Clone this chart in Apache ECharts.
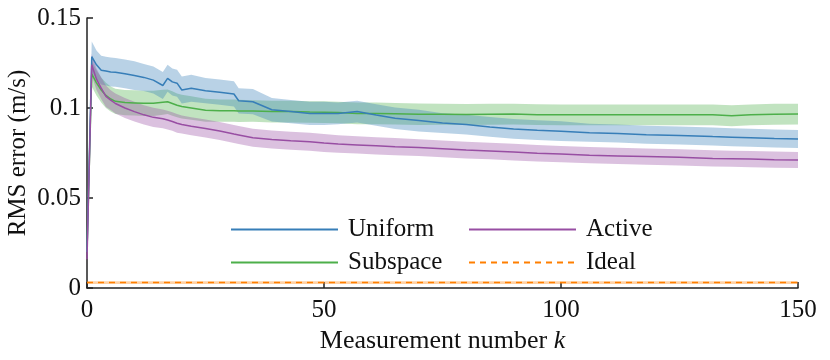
<!DOCTYPE html>
<html>
<head>
<meta charset="utf-8">
<script src="https://cdn.jsdelivr.net/npm/echarts@6/dist/echarts.min.js"></script>
<style>
  html, body { margin: 0; padding: 0; background: #fff; }
  #main { width: 830px; height: 360px; }
</style>
</head>
<body>
<div id="main"></div>
<script>
// measurement numbers where values were read
var kVals = [0, 1, 2, 3, 4, 5, 6, 8, 10, 12, 14, 16, 17, 18, 19, 20, 22, 25, 28, 31, 32, 35, 39, 43, 47,
    50, 53, 57, 61, 65, 70, 75, 80, 85, 90, 95, 100, 106, 112, 118, 125, 132, 136, 140, 145, 150];

// mean RMS error per strategy
var uniformMean = [0.02, 0.1285, 0.124, 0.121, 0.1205, 0.12, 0.1198, 0.119, 0.118, 0.117, 0.1155, 0.1125, 0.1165, 0.1145, 0.1138, 0.110, 0.111, 0.1096, 0.1088, 0.1078, 0.104, 0.1035, 0.099, 0.098, 0.097,
    0.097, 0.097, 0.098, 0.0961, 0.0943, 0.093, 0.0916, 0.0908, 0.0895, 0.0884, 0.0877, 0.0871, 0.0863, 0.0858, 0.0852, 0.0847, 0.0841, 0.0838, 0.0835, 0.0831, 0.0828];
var subspaceMean = [0.02, 0.119, 0.114, 0.110, 0.107, 0.105, 0.1037, 0.103, 0.1028, 0.1026, 0.1026, 0.1032, 0.1035, 0.1025, 0.1015, 0.1008, 0.100, 0.0988, 0.0985, 0.0985, 0.0984, 0.0983, 0.098, 0.098, 0.0978,
    0.0977, 0.0975, 0.097, 0.097, 0.0968, 0.0965, 0.0965, 0.0964, 0.0965, 0.0966, 0.0963, 0.0962, 0.0962, 0.0962, 0.0962, 0.0962, 0.0962, 0.0957, 0.0962, 0.0965, 0.0966];
var activeMean = [0.016, 0.124, 0.116, 0.111, 0.1065, 0.1044, 0.1025, 0.100, 0.098, 0.0962, 0.0948, 0.094, 0.0933, 0.0925, 0.0915, 0.0908, 0.0898, 0.0886, 0.0872, 0.0855, 0.085, 0.0835, 0.0825, 0.0818, 0.0812,
    0.0805, 0.080, 0.0795, 0.079, 0.0785, 0.078, 0.0773, 0.0766, 0.0761, 0.0755, 0.0749, 0.0744, 0.0738, 0.0734, 0.073, 0.0726, 0.072, 0.0718, 0.0716, 0.0713, 0.0711];

// half width of the shaded band
var uniformSpread = [0.003, 0.0085, 0.008, 0.008, 0.008, 0.008, 0.008, 0.008, 0.008, 0.0075, 0.0075, 0.0075, 0.0075, 0.0075, 0.0075, 0.0075, 0.0075, 0.007, 0.007, 0.007, 0.007, 0.007, 0.0065, 0.0065, 0.0065,
    0.0065, 0.006, 0.006, 0.006, 0.006, 0.006, 0.0055, 0.0055, 0.0055, 0.0055, 0.0055, 0.0055, 0.005, 0.005, 0.005, 0.005, 0.005, 0.005, 0.005, 0.005, 0.005];
var subspaceSpread = [0.003, 0.007, 0.007, 0.007, 0.007, 0.007, 0.007, 0.007, 0.007, 0.007, 0.007, 0.007, 0.0068, 0.0068, 0.0066, 0.0066, 0.0065, 0.0064, 0.0062, 0.0062, 0.0062, 0.006, 0.006, 0.006, 0.006,
    0.006, 0.006, 0.006, 0.006, 0.006, 0.006, 0.0058, 0.0058, 0.0058, 0.0058, 0.0058, 0.0058, 0.0058, 0.0058, 0.0058, 0.0058, 0.0058, 0.0058, 0.0058, 0.0058, 0.0058];
var activeSpread = [0.003, 0.006, 0.006, 0.006, 0.006, 0.0055, 0.0055, 0.0055, 0.0055, 0.0053, 0.0053, 0.0052, 0.0052, 0.0052, 0.0052, 0.005, 0.005, 0.005, 0.005, 0.005, 0.005, 0.005, 0.005, 0.005, 0.005,
    0.005, 0.0048, 0.0048, 0.0048, 0.0048, 0.0047, 0.0047, 0.0047, 0.0046, 0.0046, 0.0046, 0.0045, 0.0045, 0.0045, 0.0045, 0.0045, 0.0045, 0.0045, 0.0045, 0.0045, 0.0045];

var idealK = [0, 150];
var idealMean = [0.003, 0.003];
var idealSpread = [0.0008, 0.0008];

var xTicks = [0, 50, 100, 150];
var yTicks = [0, 0.05, 0.1, 0.15];

var FONT = 'Liberation Serif';
var dom = document.getElementById('main');
var myChart = echarts.init(dom, null, { renderer: 'canvas' });

function pairs(ks, vals) {
    return ks.map(function (k, i) { return [k, vals[i]]; });
}

// shaded band: one polygon through lower edge then back along the upper edge
function bandSeries(name, ks, mean, spread, color) {
    var rows = ks.map(function (k, i) { return [k, mean[i] - spread[i], mean[i] + spread[i]]; });
    return {
        name: name + '_band', type: 'custom', data: rows, silent: true, z: 1,
        encode: { x: 0, y: [1, 2] },
        renderItem: function (params, api) {
            if (params.dataIndex !== 0) return null;
            var pts = [];
            rows.forEach(function (r) { pts.push(api.coord([r[0], r[1]])); });
            for (var i = rows.length - 1; i >= 0; i--) pts.push(api.coord([rows[i][0], rows[i][2]]));
            return {
                type: 'polygon',
                shape: { points: pts },
                style: { fill: color, opacity: 0.35 }
            };
        },
        clip: true
    };
}

function meanSeries(name, ks, mean, color, dashed) {
    return {
        name: name, type: 'line', data: pairs(ks, mean), symbol: 'none', showSymbol: false,
        lineStyle: { color: color, width: 1.5, type: dashed ? [6, 5] : 'solid' },
        itemStyle: { color: color }, z: 3
    };
}

var blue = '#377eb8', green = '#4daf4a', purple = '#984ea3', orange = '#ff7f00';

var series = [
    bandSeries('Subspace', kVals, subspaceMean, subspaceSpread, green),
    bandSeries('Uniform', kVals, uniformMean, uniformSpread, blue),
    bandSeries('Active', kVals, activeMean, activeSpread, purple),
    bandSeries('Ideal', idealK, idealMean, idealSpread, orange),
    meanSeries('Subspace', kVals, subspaceMean, green),
    meanSeries('Uniform', kVals, uniformMean, blue),
    meanSeries('Active', kVals, activeMean, purple),
    meanSeries('Ideal', idealK, idealMean, orange, true)
];

var legendCommon = {
    orient: 'vertical', padding: 0, itemGap: 8, itemWidth: 107, itemHeight: 14,
    itemStyle: { opacity: 0 },
    textStyle: { fontFamily: FONT, fontSize: 25, color: '#111', lineHeight: 24, padding: [0, 0, 0, 5] },
    selectedMode: false
};

var option = {
    animation: false,
    backgroundColor: '#fff',
    grid: { left: 87, right: 32, top: 18, bottom: 72, outerBoundsMode: 'none', containLabel: false },
    legend: [
        Object.assign({ left: 230, top: 217, data: ['Uniform', 'Subspace'] }, legendCommon),
        Object.assign({ left: 468, top: 217, data: ['Active', 'Ideal'] }, legendCommon)
    ],
    xAxis: {
        type: 'value', min: xTicks[0], max: xTicks[xTicks.length - 1], interval: 50,
        name: '{n|Measurement number }{k|k}', nameLocation: 'middle', nameGap: 36,
        nameTextStyle: {
            rich: {
                n: { fontFamily: FONT, fontSize: 26, color: '#111' },
                k: { fontFamily: FONT, fontSize: 26, color: '#111', fontStyle: 'italic' }
            }
        },
        axisLine: { lineStyle: { color: '#222', width: 1.5 } },
        axisTick: { inside: true, length: 6, lineStyle: { color: '#222', width: 1.5 } },
        axisLabel: { fontFamily: FONT, fontSize: 25, color: '#111', margin: 10 },
        splitLine: { show: false }
    },
    yAxis: {
        type: 'value', min: yTicks[0], max: yTicks[yTicks.length - 1], interval: 0.05,
        name: 'RMS error (m/s)', nameLocation: 'middle', nameGap: 56, nameMoveOverlap: false,
        nameTextStyle: { fontFamily: FONT, fontSize: 25, color: '#111' },
        axisLine: { show: true, lineStyle: { color: '#222', width: 1.5 } },
        axisTick: { show: true, inside: true, length: 6, lineStyle: { color: '#222', width: 1.5 } },
        axisLabel: { fontFamily: FONT, fontSize: 25, color: '#111', margin: 6 },
        splitLine: { show: false }
    },
    series: series
};

myChart.setOption(option);
</script>
</body>
</html>
